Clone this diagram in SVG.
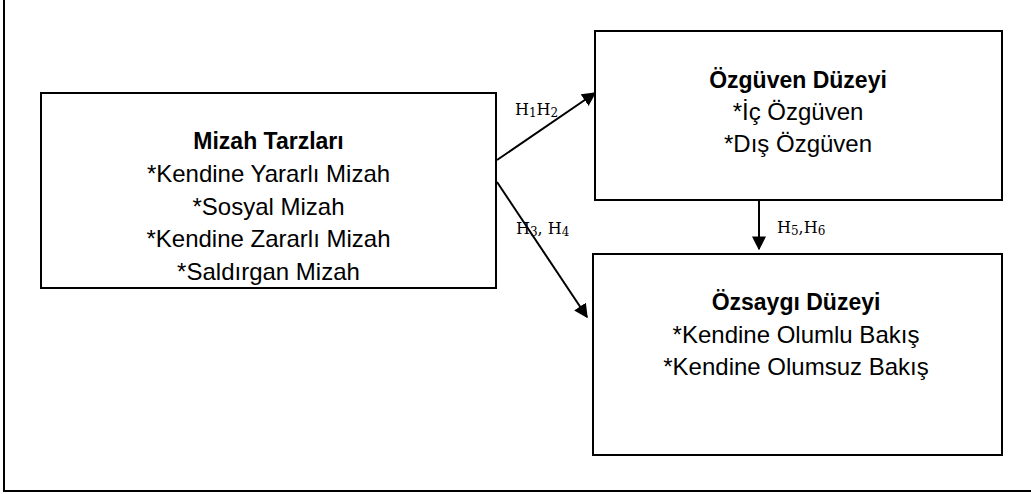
<svg xmlns="http://www.w3.org/2000/svg" width="1031" height="494" viewBox="0 0 1031 494">
<style>
.box{fill:#fff;stroke:#000;stroke-width:2}
.t{font-family:"Liberation Sans",Arial,sans-serif;font-size:24px;fill:#000;text-anchor:middle}
.b{font-weight:bold;font-size:23px}
.lbl{font-family:"DejaVu Serif","Liberation Serif",serif;font-size:16px;fill:#000}
.sub{font-size:12px}
.con{stroke:#000;stroke-width:2;fill:none}
</style>
<defs>
<marker id="ah" viewBox="0 0 10 10" refX="9" refY="5" markerWidth="7" markerHeight="7" markerUnits="strokeWidth" orient="auto">
<path d="M0,0 L10,5 L0,10 Z" fill="#000"/>
</marker>
</defs>
<rect x="4" y="-10" width="1040" height="501" fill="#fff" stroke="#000" stroke-width="2"/>
<g id="mizah">
<rect class="box" x="41" y="93" width="455" height="195"/>
<text class="t b" x="268.5" y="149">Mizah Tarzları</text>
<text class="t" x="268.5" y="182">*Kendine Yararlı Mizah</text>
<text class="t" x="268.5" y="214.5">*Sosyal Mizah</text>
<text class="t" x="268.5" y="247">*Kendine Zararlı Mizah</text>
<text class="t" x="268.5" y="280">*Saldırgan Mizah</text>
</g>
<g id="ozguven">
<rect class="box" x="595" y="31" width="407" height="169"/>
<text class="t b" x="798" y="88">Özgüven Düzeyi</text>
<text class="t" x="798" y="120">*İç Özgüven</text>
<text class="t" x="798" y="152">*Dış Özgüven</text>
</g>
<g id="ozsaygi">
<rect class="box" x="593" y="254" width="409" height="201"/>
<text class="t b" x="796" y="310">Özsaygı Düzeyi</text>
<text class="t" x="796" y="343">*Kendine Olumlu Bakış</text>
<text class="t" x="796" y="375">*Kendine Olumsuz Bakış</text>
</g>
<g id="connectors">
<line class="con" x1="497" y1="160" x2="595" y2="93" marker-end="url(#ah)"/>
<line class="con" x1="497" y1="182" x2="587" y2="317" marker-end="url(#ah)"/>
<line class="con" x1="759" y1="200" x2="759" y2="249" marker-end="url(#ah)"/>
<text class="lbl" x="515" y="115">H<tspan class="sub" dy="2">1</tspan><tspan dy="-2">H</tspan><tspan class="sub" dy="2">2</tspan></text>
<text class="lbl" x="516" y="234">H<tspan class="sub" dy="2">3</tspan><tspan dy="-2">, H</tspan><tspan class="sub" dy="2">4</tspan></text>
<text class="lbl" x="777" y="233">H<tspan class="sub" dy="2">5</tspan><tspan dy="-2">,H</tspan><tspan class="sub" dy="2">6</tspan></text>
</g>
</svg>
